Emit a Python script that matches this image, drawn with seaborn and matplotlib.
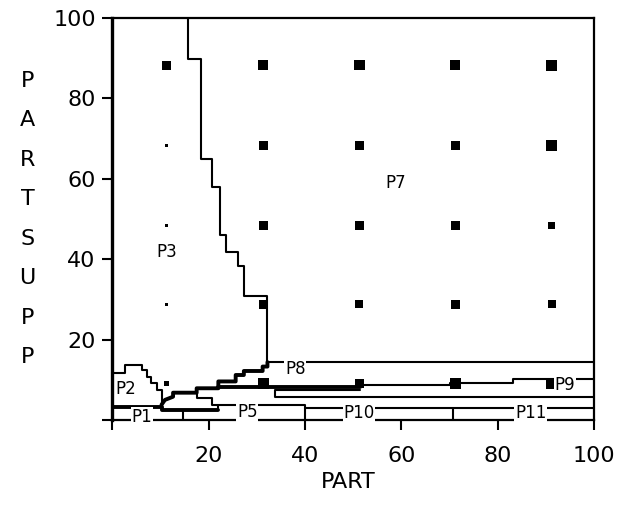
import numpy as np
import pandas as pd
import matplotlib.pyplot as plt
import seaborn as sns

# --- data ---
# sample points (selectivity %, PART x PARTSUPP)
part_pts = [11.3, 31.3, 51.3, 71.2, 91.2]
ps_pts = [88.3, 68.3, 48.4, 28.8, 9.1]
# dot weight, one row per ps_pts value
dot_w = [[8, 10, 10, 10, 11],
         [3, 8, 9, 8, 11],
         [3, 8, 9, 8, 6],
         [3, 8, 7, 8, 7],
         [4, 11, 9, 11, 10]]

# plan boundaries (PART, PARTSUPP)
p3_p7_x = [15.7, 15.7, 18.5, 18.5, 20.6, 20.6, 22.3, 22.3, 23.6, 23.6, 26.1, 26.1, 27.3, 27.3, 32.2, 32.2]
p3_p7_y = [100, 89.7, 89.7, 64.9, 64.9, 57.9, 57.9, 46.0, 46.0, 41.7, 41.7, 38.4, 38.4, 30.8, 30.8, 14.4]
p7_p8_x = [32.2, 100]
p7_p8_y = [14.4, 14.4]
p2_x = [0, 2.6, 2.6, 6.1, 6.1, 7.1, 7.1, 8.1, 8.1, 9.2, 9.2, 10.2, 10.2]
p2_y = [11.6, 11.6, 13.7, 13.7, 12.4, 12.4, 10.8, 10.8, 9.1, 9.1, 7.5, 7.5, 3.8]
p6_top_x = [10.2, 10.9, 12.6, 12.6, 17.5, 17.5, 22.0, 22.0, 25.6, 25.6, 27.3, 27.3, 31.2, 31.2, 32.2, 32.2]
p6_top_y = [3.8, 5.0, 5.8, 6.8, 6.8, 7.9, 7.9, 9.6, 9.6, 11.2, 11.2, 12.2, 12.2, 13.3, 13.3, 14.4]
p4_x = [17.5, 17.5, 20.6, 20.6, 22.0, 22.0]
p4_y = [6.8, 5.4, 5.4, 3.7, 3.7, 2.4]
p1_x = [0, 10.2, 10.2, 22.0]
p1_y = [3.2, 3.2, 2.4, 2.4]
p1_p5_x = [14.7, 14.7]
p1_p5_y = [0, 2.4]
p5_x = [22.0, 40.0, 40.0]
p5_y = [3.7, 3.7, 0]
p6_bot_x = [22.0, 51.4]
p6_bot_y = [8.3, 8.3]
p9_top_x = [51.4, 70.1, 70.1, 83.2, 83.2, 100]
p9_top_y = [8.7, 8.7, 9.2, 9.2, 10.1, 10.1]
p9_bot_x = [51.4, 33.8, 33.8, 100]
p9_bot_y = [7.5, 7.5, 5.8, 5.8]
p10_top_x = [40.0, 100]
p10_top_y = [3.0, 3.0]
p10_p11_x = [70.8, 70.8]
p10_p11_y = [0, 3.0]

plan_names = ['P1', 'P2', 'P3', 'P5', 'P7', 'P8', 'P9', 'P10', 'P11']
plan_x = [6.1, 2.8, 11.3, 28.0, 58.9, 38.0, 94.0, 51.2, 86.9]
plan_y = [0.8, 7.7, 41.9, 1.9, 58.9, 12.8, 8.7, 1.7, 1.7]

sns.set_style('ticks')
plt.rcParams['font.family'] = ['DejaVu Sans']
plt.rcParams['text.color'] = 'black'
plt.rcParams['axes.labelcolor'] = 'black'

# long tables for seaborn
thin = [(p3_p7_x, p3_p7_y), (p7_p8_x, p7_p8_y), (p2_x, p2_y), (p4_x, p4_y),
        (p1_p5_x, p1_p5_y), (p5_x, p5_y), (p9_top_x, p9_top_y), (p9_bot_x, p9_bot_y),
        (p10_top_x, p10_top_y), (p10_p11_x, p10_p11_y)]
thick = [(p6_top_x, p6_top_y), (p1_x, p1_y), (p6_bot_x, p6_bot_y)]

def to_long(edges):
    rows = []
    for i, (xs, ys) in enumerate(edges):
        for k, (a, b) in enumerate(zip(xs, ys)):
            rows.append({'edge': i, 'order': k, 'PART': a, 'PARTSUPP': b})
    return pd.DataFrame(rows)

df_thin = to_long(thin)
df_thick = to_long(thick)

pts = []
for j, ps in enumerate(ps_pts):
    for i, pa in enumerate(part_pts):
        pts.append({'PART': pa, 'PARTSUPP': ps, 'w': dot_w[j][i]})
df_pts = pd.DataFrame(pts)

fig = plt.figure(figsize=(6.21, 5.16), dpi=100)
ax = fig.add_axes([0.181, 0.186, 0.7754, 0.779])

sns.lineplot(data=df_thin, x='PART', y='PARTSUPP', units='edge', estimator=None, sort=False,
             color='black', lw=1.5, ax=ax)
sns.lineplot(data=df_thick, x='PART', y='PARTSUPP', units='edge', estimator=None, sort=False,
             color='black', lw=2.8, ax=ax)
sns.scatterplot(data=df_pts, x='PART', y='PARTSUPP', size='w', sizes=(5, 62), size_norm=(3, 11),
                marker='s', color='black', edgecolor='none', legend=False, ax=ax, zorder=4)

for name, x, y in zip(plan_names, plan_x, plan_y):
    ax.text(x, y, name, ha='center', va='center', fontsize=12, color='black', clip_on=False, zorder=5,
            bbox=dict(facecolor='white', edgecolor='none', pad=0.5))

ax.set_xlim(0, 100)
ax.set_ylim(0, 100)
ax.set_xticks([0, 20, 40, 60, 80, 100])
ax.set_xticklabels(['', '20', '40', '60', '80', '100'])
ax.set_yticks([0, 20, 40, 60, 80, 100])
ax.set_yticklabels(['', '20', '40', '60', '80', '100'])
ax.tick_params(axis='both', direction='out', length=7, width=1.5, labelsize=16,
               colors='black', labelcolor='black')
ax.tick_params(axis='x', pad=12)
ax.tick_params(axis='y', pad=5)
for side in ['left', 'right', 'top', 'bottom']:
    ax.spines[side].set_visible(True)
    ax.spines[side].set_color('black')
    ax.spines[side].set_linewidth(1.6)
ax.spines['left'].set_linewidth(2.4)

ax.set_xlabel('PART', fontsize=16, color='black')
ax.xaxis.set_label_coords(0.49, -0.13)
ax.set_ylabel('P\nA\nR\nT\nS\nU\nP\nP', rotation=0, fontsize=16, linespacing=2.22,
              ha='center', va='center', color='black')
ax.yaxis.set_label_coords(-0.176, 0.5)

fig.savefig('out.png', dpi=100)
